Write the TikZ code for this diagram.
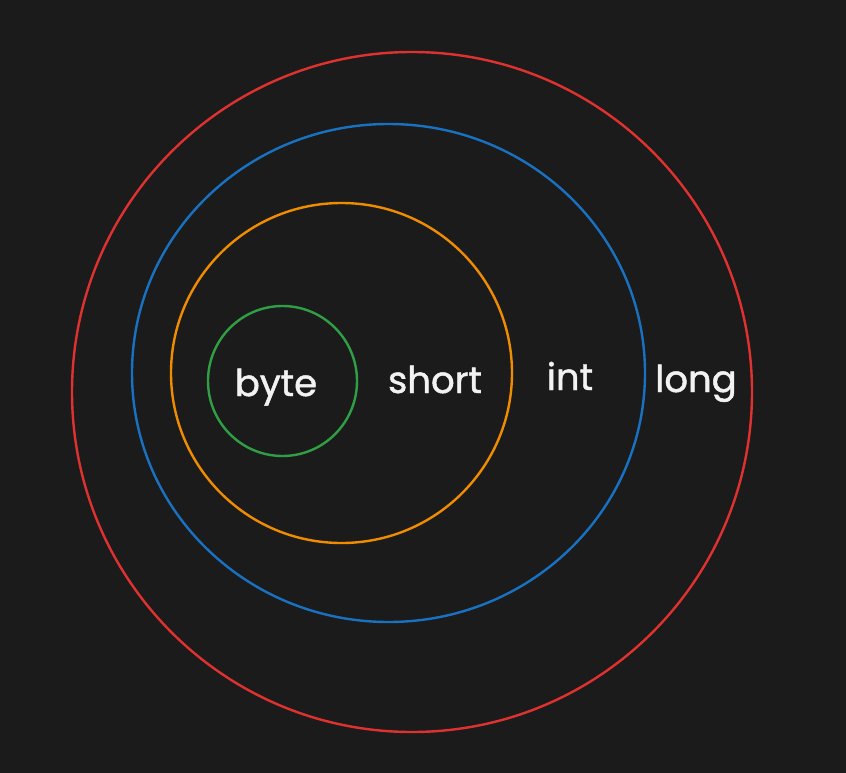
\documentclass[tikz,border=0pt]{standalone}
\usepackage{fontspec}
\setmainfont{Poppins}
\newfontfamily\sketchfont{Poppins}[FakeBold=1.3]
\usepackage{tikz}
\usetikzlibrary{positioning,shapes.geometric}
\definecolor{canvas}{HTML}{1B1B1B}
\definecolor{longred}{HTML}{E03131}
\definecolor{intblue}{HTML}{1971C2}
\definecolor{shortorange}{HTML}{F08C00}
\definecolor{bytegreen}{HTML}{2F9E44}
\definecolor{chalk}{HTML}{F2F2F2}
\tikzset{
  ring/.style={
    draw=#1,
    shape=ellipse,
    line width=2.4pt,
    inner sep=0pt
  },
  type label/.style={
    text=chalk,
    anchor=base,
    inner sep=0pt,
    font=\sketchfont\fontsize{37}{40}\selectfont
  }
}
\begin{document}
\begin{tikzpicture}[%
        x=1pt,
        y=-1pt,
        every node/.style={outer sep=0pt}]
      \useasboundingbox[fill=canvas] (0,0) rectangle (846,773);
      \node[ring=longred,    minimum width=680pt, minimum height=680pt] (long_ring)  at (412,392)   {};
      \node[ring=intblue,    minimum width=513pt, minimum height=498pt] (int_ring)   at (388.5,373) {};
      \node[ring=shortorange,minimum width=341pt, minimum height=340pt] (short_ring) at (341.5,373) {};
      \node[ring=bytegreen,  minimum width=149pt, minimum height=150pt] (byte_ring)  at (282.5,381) {};
      \node[type label] (byte)  at (276,396) {byte};
      \node[type label] (short) at (435,393) {short};
      \node[type label] (int)   at (570,390) {int};
      \node[type label] (long)  at (696,392) {long};
    \end{tikzpicture}
\end{document}
